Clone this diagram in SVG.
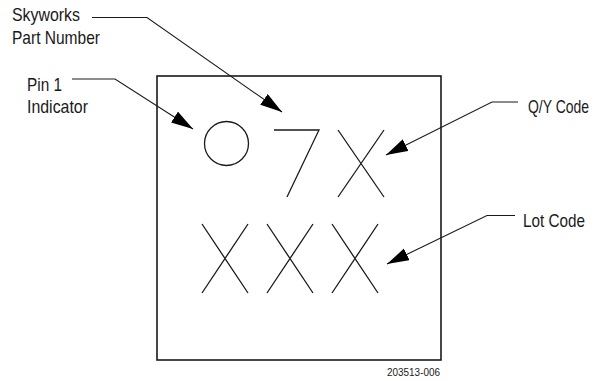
<svg xmlns="http://www.w3.org/2000/svg" width="594" height="381" viewBox="0 0 594 381">
<defs>
<marker id="ah" markerUnits="userSpaceOnUse" markerWidth="24" markerHeight="14" refX="22" refY="6.5" orient="auto">
<path d="M0,0 L22,6.5 L0,13 Z" fill="#000"/>
</marker>
</defs>
<style>
.lbl{font-family:"Liberation Sans",Arial,sans-serif;font-size:14px;fill:#1a1a1a}
.mk{fill:none;stroke:#1a1a1a;stroke-width:1.3}
.ld{fill:none;stroke:#1a1a1a;stroke-width:1.1}
</style>
<rect width="594" height="381" fill="#fff"/>
<g id="package">
<rect x="157" y="76" width="284" height="284" fill="none" stroke="#1a1a1a" stroke-width="1.6"/>
</g>
<g id="pin1-dot"><circle class="mk" cx="226.5" cy="143.5" r="22"/></g>
<g id="part-number-7"><polyline class="mk" points="274,130 319,130 287,197"/></g>
<g id="qy-x"><path class="mk" d="M338,130 L384,197 M384,130 L338,197"/></g>
<g id="lot-xxx">
<path class="mk" d="M202,224 L248,293 M248,224 L202,293"/>
<path class="mk" d="M267,224 L313,293 M313,224 L267,293"/>
<path class="mk" d="M332,224 L378,293 M378,224 L332,293"/>
</g>
<g id="label-skyworks">
<text class="lbl" transform="translate(12,21) scale(1,1.25)" textLength="68" lengthAdjust="spacingAndGlyphs">Skyworks</text>
<text class="lbl" transform="translate(12,44) scale(1,1.25)" textLength="88" lengthAdjust="spacingAndGlyphs">Part Number</text>
</g>
<g id="label-pin1">
<text class="lbl" transform="translate(27,91) scale(1,1.25)" textLength="35" lengthAdjust="spacingAndGlyphs">Pin 1</text>
<text class="lbl" transform="translate(27,113) scale(1,1.25)" textLength="61" lengthAdjust="spacingAndGlyphs">Indicator</text>
</g>
<g id="label-qy"><text class="lbl" transform="translate(528,113) scale(1,1.25)" textLength="61" lengthAdjust="spacingAndGlyphs">Q/Y Code</text></g>
<g id="label-lot"><text class="lbl" transform="translate(523,227) scale(1,1.25)" textLength="62" lengthAdjust="spacingAndGlyphs">Lot Code</text></g>
<g id="figure-id"><text x="440" y="376" text-anchor="end" style="font-family:'Liberation Sans',Arial,sans-serif;font-size:10px;fill:#1a1a1a" textLength="53" lengthAdjust="spacingAndGlyphs">203513-006</text></g>
<g id="connectors">
<polyline class="ld" points="518,102 492,102 386,155" marker-end="url(#ah)"/>
<polyline class="ld" points="92,17.5 147,17.5 282,112" marker-end="url(#ah)"/>
<polyline class="ld" points="72,79 115,79 193,129" marker-end="url(#ah)"/>
<polyline class="ld" points="515,215.5 487,215.5 387,264" marker-end="url(#ah)"/>
</g>
</svg>
